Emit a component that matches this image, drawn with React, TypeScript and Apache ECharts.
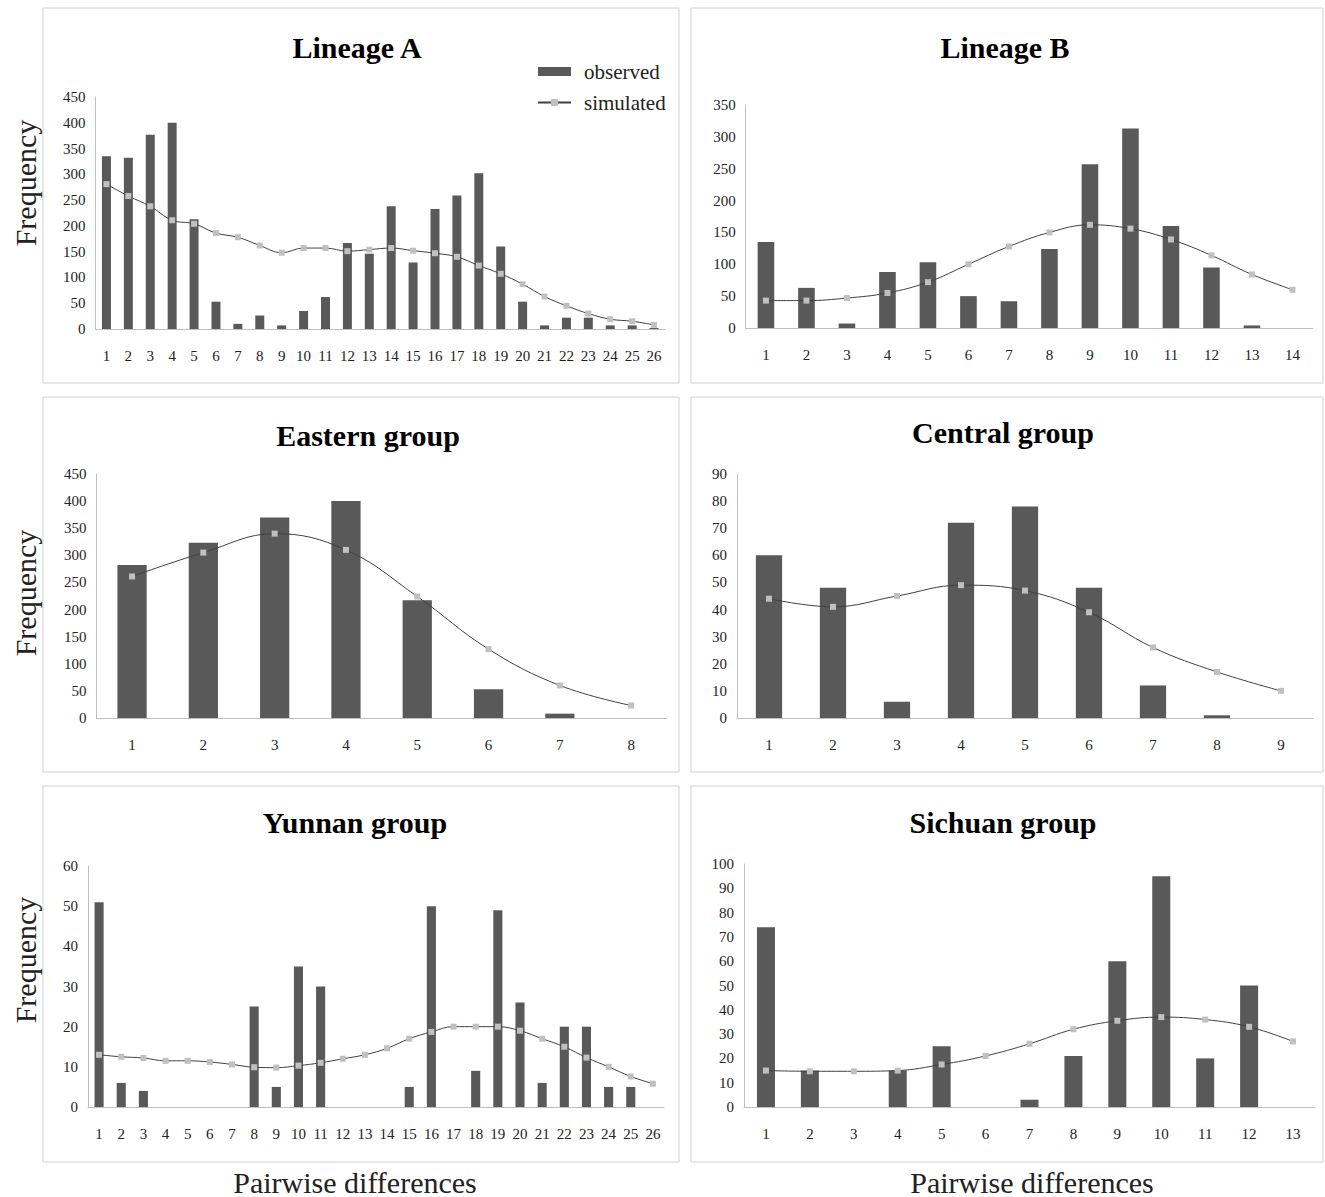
import React, { useEffect, useRef } from "react";
import * as echarts from "echarts";

// ---------- data ----------
const catsA = Array.from({ length: 26 }, (_, i) => String(i + 1));
const obsA = [335, 332, 377, 400, 213, 53, 10, 26, 7, 35, 62, 167, 146, 238, 129, 233, 259, 302, 160, 53, 7, 22, 22, 7, 7, 2];
const simA = [281, 258, 238, 211, 204, 186, 178, 162, 148, 157, 157, 151, 154, 157, 152, 147, 140, 123, 107, 87, 63, 45, 30, 19, 15, 8];

const catsB = Array.from({ length: 14 }, (_, i) => String(i + 1));
const obsB = [135, 63, 7, 88, 103, 50, 42, 124, 257, 313, 160, 95, 4, 0];
const simB = [43, 43, 47, 55, 72, 100, 128, 150, 162, 156, 139, 114, 84, 60];

const catsE = Array.from({ length: 8 }, (_, i) => String(i + 1));
const obsE = [282, 323, 370, 400, 217, 53, 8, 0];
const simE = [261, 305, 340, 310, 224, 127, 60, 23];

const catsC = Array.from({ length: 9 }, (_, i) => String(i + 1));
const obsC = [60, 48, 6, 72, 78, 48, 12, 1, 0];
const simC = [44, 41, 45, 49, 47, 39, 26, 17, 10];

const catsY = Array.from({ length: 26 }, (_, i) => String(i + 1));
const obsY = [51, 6, 4, 0, 0, 0, 0, 25, 5, 35, 30, 0, 0, 0, 5, 50, 0, 9, 49, 26, 6, 20, 20, 5, 5, 0];
const simY = [13, 12.5, 12.2, 11.5, 11.5, 11.2, 10.6, 9.9, 9.8, 10.3, 11, 12, 13, 14.6, 17, 18.7, 20, 20, 20, 19, 17, 15, 12.3, 10, 7.6, 5.8];

const catsS = Array.from({ length: 13 }, (_, i) => String(i + 1));
const obsS = [74, 15, 0, 15, 25, 0, 3, 21, 60, 95, 20, 50, 0];
const simS = [15, 14.7, 14.7, 15, 17.5, 21, 26, 32, 35.5, 37, 36, 33, 27];

const titles = ["Lineage A", "Lineage B", "Eastern group", "Central group", "Yunnan group", "Sichuan group"];
const yMax = [450, 350, 450, 90, 60, 100];
const yStep = [50, 50, 50, 10, 10, 10];

// ---------- layout ----------
const panels = [
  { cats: catsA, obs: obsA, sim: simA, grid: { left: 95.5, top: 97, width: 569.5, height: 232 }, box: [43, 8, 636, 375], title: [357, 47] },
  { cats: catsB, obs: obsB, sim: simB, grid: { left: 745.7, top: 105, width: 567, height: 223 }, box: [691, 8, 632, 375], title: [1005, 47] },
  { cats: catsE, obs: obsE, sim: simE, grid: { left: 96.4, top: 474, width: 570.4, height: 244 }, box: [43, 397, 636, 375], title: [368, 435] },
  { cats: catsC, obs: obsC, sim: simC, grid: { left: 737, top: 474, width: 576, height: 244 }, box: [691, 397, 632, 375], title: [1003, 432] },
  { cats: catsY, obs: obsY, sim: simY, grid: { left: 88, top: 866, width: 576, height: 241 }, box: [43, 786, 636, 376], title: [355, 822] },
  { cats: catsS, obs: obsS, sim: simS, grid: { left: 744, top: 864, width: 571, height: 243 }, box: [691, 786, 632, 376], title: [1003, 822] },
];

const FONT = "'Liberation Serif', 'Times New Roman', serif";
const BAR = "#595959";
const LINE = "#404040";
const MARK = "#c0c0c0";
const AXIS = "#bfbfbf";

export default function App() {
  const ref = useRef<HTMLDivElement>(null);
  useEffect(() => {
    document.body.style.margin = "0";
    if (!ref.current) return;
    const chart = echarts.init(ref.current, null, { renderer: "svg" });

    const graphics: any[] = [];
    panels.forEach((p, i) => {
      graphics.push({
        type: "rect",
        shape: { x: p.box[0], y: p.box[1], width: p.box[2], height: p.box[3] },
        style: { fill: "#fff", stroke: "#d0d0d0", lineWidth: 1 },
        z: -10,
        silent: true,
      });
      graphics.push({
        type: "text",
        x: p.title[0],
        y: p.title[1],
        style: {
          text: titles[i],
          font: `bold 30px ${FONT}`,
          fill: "#000",
          textAlign: "center",
          textVerticalAlign: "middle",
        },
      });
    });
    [183, 593, 960].forEach((cy) => {
      graphics.push({
        type: "text",
        x: 25,
        y: cy,
        rotation: Math.PI / 2,
        style: {
          text: "Frequency",
          font: `30px ${FONT}`,
          fill: "#222",
          textAlign: "center",
          textVerticalAlign: "middle",
        },
      });
    });
    [355, 1032].forEach((cx) => {
      graphics.push({
        type: "text",
        x: cx,
        y: 1182,
        style: {
          text: "Pairwise differences",
          font: `30px ${FONT}`,
          fill: "#222",
          textAlign: "center",
          textVerticalAlign: "middle",
        },
      });
    });

    const option: any = {
      animation: false,
      backgroundColor: "#fff",
      textStyle: { fontFamily: FONT },
      graphic: graphics,
      legend: {
        orient: "vertical",
        left: 537,
        top: 61,
        padding: 0,
        itemWidth: 33,
        itemHeight: 9,
        itemGap: 10,
        data: [{ name: "observed", icon: "rect" }, "simulated"],
        textStyle: { fontFamily: FONT, fontSize: 21, color: "#222", padding: [0, 0, 0, 8] },
        selectedMode: false,
      },
      grid: panels.map((p) => ({ ...p.grid, containLabel: false })),
      xAxis: panels.map((p, i) => ({
        type: "category",
        gridIndex: i,
        data: p.cats,
        boundaryGap: true,
        axisLine: { show: true, lineStyle: { color: AXIS, width: 1 } },
        axisTick: { show: false },
        axisLabel: { fontFamily: FONT, fontSize: 15, color: "#222", margin: 19, interval: 0 },
        splitLine: { show: false },
      })),
      yAxis: panels.map((p, i) => ({
        type: "value",
        gridIndex: i,
        min: 0,
        max: yMax[i],
        interval: yStep[i],
        axisLine: { show: true, lineStyle: { color: AXIS, width: 1 } },
        axisTick: { show: false },
        axisLabel: { fontFamily: FONT, fontSize: 15, color: "#222", margin: 10 },
        splitLine: { show: false },
      })),
      series: panels.flatMap((p, i) => [
        {
          name: "observed",
          type: "bar",
          xAxisIndex: i,
          yAxisIndex: i,
          data: p.obs,
          barWidth: "41%",
          itemStyle: { color: BAR },
        },
        {
          name: "simulated",
          type: "line",
          xAxisIndex: i,
          yAxisIndex: i,
          data: p.sim,
          smooth: 0.4,
          symbol: "rect",
          symbolSize: 6,
          showAllSymbol: true,
          itemStyle: { color: MARK },
          lineStyle: { color: LINE, width: 1 },
          z: 5,
        },
      ]),
    };
    chart.setOption(option);
    return () => chart.dispose();
  }, []);
  return <div ref={ref} style={{ width: 1325, height: 1197 }} />;
}
